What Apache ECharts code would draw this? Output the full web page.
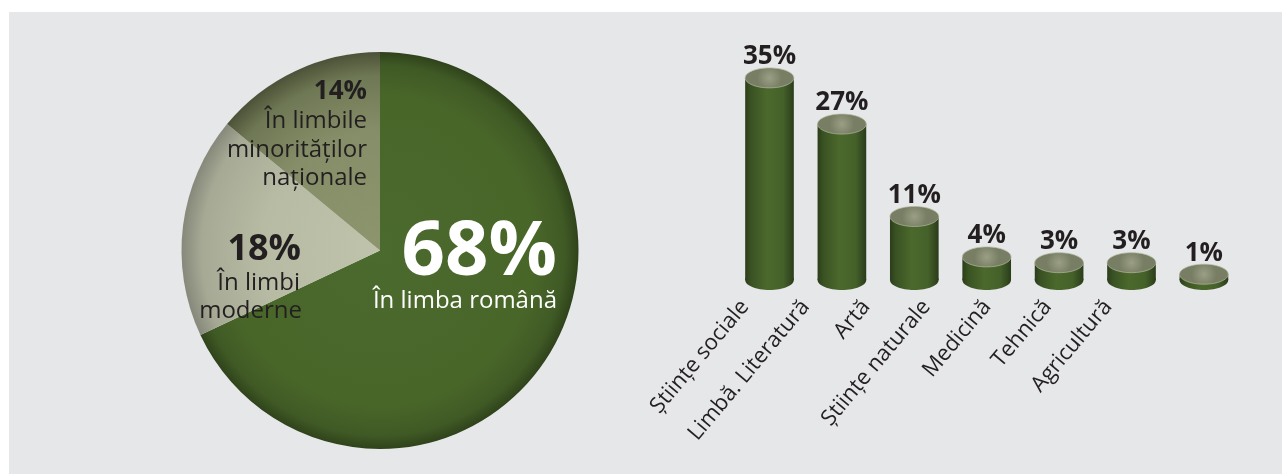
<!DOCTYPE html>
<html>
<head>
<meta charset="utf-8">
<script src="https://cdn.jsdelivr.net/npm/echarts@6/dist/echarts.min.js"></script>
<style>
  html, body { margin: 0; padding: 0; background: #ffffff; }
  .panel { position: absolute; left: 9px; top: 12px; right: 0; bottom: 0; background: #e6e7e9; }
  #chart { position: absolute; left: 0; top: 0; width: 1282px; height: 474px; }
</style>
</head>
<body>
<div class="panel"></div>
<div id="chart"></div>
<script>
// pie: language of instruction
var pieNames = ['În limba română', 'În limbi moderne', 'În limbile minorităților naționale'];
var pieValues = [68, 18, 14];
var pieLabel68 = ['68%', 'În limba română'];
var pieLabel18 = ['18%', 'În limbi', 'moderne'];
var pieLabel14 = ['14%', 'În limbile', 'minorităților', 'naționale'];

// bars: domains
var barCategories = ['Științe sociale', 'Limbă. Literatură', 'Artă', 'Științe naturale', 'Medicină', 'Tehnică', 'Agricultură'];
var barValues = [35, 27, 11, 4, 3, 3, 1];

var FONT = '"Open Sans", "Noto Sans", sans-serif';
var INK = '#231f20';

function radial(stops) {
  return {
    type: 'radial', x: 380, y: 250.5, r: 198.5, global: true,
    colorStops: stops.map(function (s) { return { offset: s[0], color: s[1] }; })
  };
}

var pieFills = [
  radial([[0, '#4b6a2d'], [0.78, '#496629'], [0.93, '#405a25'], [1, '#2f431b']]),
  radial([[0, '#c0c3ab'], [0.6, '#b8bba3'], [0.9, '#a6a994'], [1, '#86887a']]),
  radial([[0, '#8c956d'], [0.6, '#858e68'], [0.88, '#6f7854'], [1, '#4c5238']])
];

function txt(text, x, y, size, bold, color) {
  return {
    type: 'text', x: x, y: y, z: 100, silent: true,
    style: {
      text: text, align: 'right', verticalAlign: 'middle',
      fontSize: size, fontWeight: bold ? 'bold' : 'normal',
      fontFamily: FONT, fill: color
    }
  };
}

function renderCylinder(params, api) {
  var i = api.value(0);
  var v = api.value(1);
  var base = api.coord([i, 0]);
  var top = api.coord([i, v]);
  var band = api.size([1, 0])[0];
  var rx = band * 0.336;
  var ry = 10;
  var cx = base[0];
  var body = new echarts.graphic.LinearGradient(0, 0, 1, 0, [
    { offset: 0, color: '#2b3d1a' },
    { offset: 0.12, color: '#3a5223' },
    { offset: 0.45, color: '#4b692c' },
    { offset: 0.78, color: '#45612a' },
    { offset: 1, color: '#2a3c1a' }
  ]);
  var lid = new echarts.graphic.RadialGradient(0.5, 0.5, 0.6, [
    { offset: 0, color: '#9a9f85' },
    { offset: 1, color: '#787e63' }
  ]);
  return {
    type: 'group',
    children: [
      { type: 'ellipse', shape: { cx: cx, cy: base[1], rx: rx, ry: ry }, style: { fill: body } },
      { type: 'rect', shape: { x: cx - rx, y: top[1], width: rx * 2, height: base[1] - top[1] }, style: { fill: body } },
      { type: 'ellipse', shape: { cx: cx, cy: top[1], rx: rx, ry: ry }, style: { fill: lid, stroke: '#b3b7a1', lineWidth: 0.7 } },
      {
        type: 'text',
        style: {
          text: v + '%', x: cx, y: top[1] - 21, align: 'center', verticalAlign: 'middle',
          fontSize: 26, fontWeight: 'bold', fontFamily: FONT, fill: INK
        }
      }
    ]
  };
}

var chart = echarts.init(document.getElementById('chart'));
chart.setOption({
  animation: false,
  grid: [
    { left: 733.3, width: 506.8, top: 49, bottom: 194 },
    { left: 714.75, width: 423.5, top: 49, bottom: 194 }
  ],
  xAxis: [
    {
      gridIndex: 0, type: 'category', data: barCategories,
      axisLine: { show: false }, axisTick: { show: false }, axisLabel: { show: false }
    },
    {
      gridIndex: 1, type: 'category', data: barCategories,
      axisLine: { show: false }, axisTick: { show: false },
      axisLabel: { rotate: 50, margin: 23, fontSize: 22, fontFamily: FONT, color: INK, interval: 0 }
    }
  ],
  yAxis: [
    { gridIndex: 0, type: 'value', min: 0, max: 40, show: false },
    { gridIndex: 1, type: 'value', min: 0, max: 40, show: false }
  ],
  series: [
    {
      type: 'pie',
      center: [380, 250.5],
      radius: 198.5,
      startAngle: 90,
      clockwise: true,
      silent: true,
      label: { show: false },
      labelLine: { show: false },
      data: pieValues.map(function (v, i) {
        return { value: v, name: pieNames[i], itemStyle: { color: pieFills[i] } };
      })
    },
    {
      type: 'custom',
      xAxisIndex: 0,
      yAxisIndex: 0,
      renderItem: renderCylinder,
      encode: { x: 0, y: 1 },
      data: barValues.map(function (v, i) { return [i, v]; })
    }
  ],
  graphic: {
    elements: [
      txt(pieLabel68[0], 557, 253.5, 76, true, '#ffffff'),
      txt(pieLabel68[1], 557, 301.5, 24, false, '#ffffff'),
      txt(pieLabel18[0], 301, 250, 36, true, INK),
      txt(pieLabel18[1], 300, 283.4, 24, false, INK),
      txt(pieLabel18[2], 302, 311.4, 24, false, INK),
      txt(pieLabel14[0], 367, 91.7, 26, true, INK),
      txt(pieLabel14[1], 367, 121.4, 24, false, INK),
      txt(pieLabel14[2], 367, 150.4, 24, false, INK),
      txt(pieLabel14[3], 367, 178.4, 24, false, INK)
    ]
  }
});
</script>
</body>
</html>
